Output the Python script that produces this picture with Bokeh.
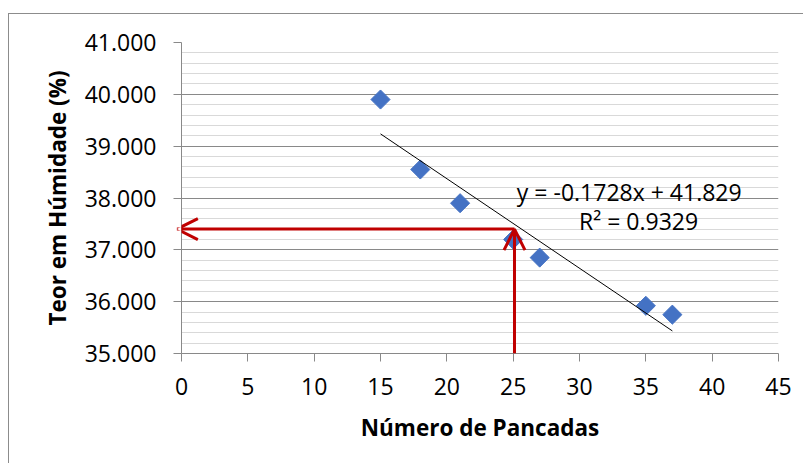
import numpy as np
from bokeh.plotting import figure
from bokeh.models import Range1d, FixedTicker, Arrow, OpenHead, Label, ColumnDataSource
from bokeh.embed import file_html
from bokeh.resources import INLINE

# ---- data ----
blows = [15, 18, 21, 25, 27, 35, 37]
moisture = [39.9, 38.55, 37.9, 37.2, 36.85, 35.92, 35.75]
slope = -0.1728
intercept = 41.829
r_squared = 0.9329
trend_x = [15, 37]
target_blows = 25.1
target_moisture = 37.4
x_ticks = [0, 5, 10, 15, 20, 25, 30, 35, 40, 45]
y_ticks = [35, 36, 37, 38, 39, 40, 41]
y_minor_ticks = [35.2, 35.4, 35.6, 35.8, 36.2, 36.4, 36.6, 36.8, 37.2, 37.4, 37.6, 37.8,
                 38.2, 38.4, 38.6, 38.8, 39.2, 39.4, 39.6, 39.8, 40.2, 40.4, 40.6, 40.8]
y_labels = {35: "35.000", 36: "36.000", 37: "37.000", 38: "38.000", 39: "39.000", 40: "40.000", 41: "41.000"}
x_title = "Número de Pancadas"
y_title = "Teor em Húmidade (%)"

FONT = "Open Sans"
MAJOR = "#898989"
MINOR = "#D9D9D9"
RED = "#C00000"
BLUE = "#4472C4"

p = figure(width=795, height=450, output_backend="svg", toolbar_location=None,
           x_range=Range1d(0, 45), y_range=Range1d(35, 41),
           min_border_left=172, min_border_right=26, min_border_top=28, min_border_bottom=111,
           styles={"margin-left": "8px", "margin-top": "13px",
                   "border-left": "1px solid #8C8C8C", "border-top": "1px solid #8C8C8C"})
p.outline_line_color = None
p.background_fill_color = "white"
p.border_fill_color = "white"

# axes
p.xaxis.ticker = FixedTicker(ticks=x_ticks)
p.yaxis.ticker = FixedTicker(ticks=y_ticks, minor_ticks=y_minor_ticks)
p.yaxis.major_label_overrides = y_labels
for ax in (p.xaxis[0], p.yaxis[0]):
    ax.axis_line_color = MAJOR
    ax.major_tick_line_color = MAJOR
    ax.major_tick_out = 8
    ax.major_tick_in = 0
    ax.minor_tick_line_color = None
    ax.major_label_text_font = FONT
    ax.major_label_text_font_size = "23px"
    ax.major_label_text_color = "black"
    ax.axis_label_text_font = FONT
    ax.axis_label_text_font_size = "22.5px"
    ax.axis_label_text_font_style = "bold"
    ax.axis_label_text_color = "black"
p.xaxis.axis_label = x_title
p.yaxis.axis_label = y_title
p.xaxis.major_label_standoff = 16
p.yaxis.major_label_standoff = 17
p.xaxis.axis_label_standoff = 14
p.yaxis.axis_label_standoff = 9

# grid
p.xgrid.grid_line_color = None
p.ygrid.grid_line_color = MAJOR
p.ygrid.minor_grid_line_color = MINOR
p.ygrid.grid_line_width = 1
p.ygrid.minor_grid_line_width = 1

# data
src = ColumnDataSource(dict(x=blows, y=moisture))
p.scatter("x", "y", source=src, marker="square", angle=np.pi / 4, size=13.5,
          fill_color=BLUE, line_color=BLUE)

# trendline from stated coefficients
tx = np.array(trend_x, dtype=float)
p.line(tx, slope * tx + intercept, line_color="black", line_width=1)

# red arrows
p.add_layout(Arrow(x_start=target_blows, y_start=target_moisture, x_end=-0.35, y_end=target_moisture,
                   line_color=RED, line_width=3,
                   end=OpenHead(size=21, line_color=RED, line_width=3)))
p.add_layout(Arrow(x_start=target_blows, y_start=35, x_end=target_blows, y_end=target_moisture,
                   line_color=RED, line_width=3,
                   end=OpenHead(size=21, line_color=RED, line_width=3)))

# equation labels
p.add_layout(Label(x=33.75, y=38.12, text="y = %.4fx + %.3f" % (slope, intercept),
                   text_font=FONT, text_font_size="23px", text_align="center",
                   text_baseline="middle", text_color="black"))
p.add_layout(Label(x=34.45, y=37.56, text="R² = %.4f" % r_squared,
                   text_font=FONT, text_font_size="23px", text_align="center",
                   text_baseline="middle", text_color="black"))

open("out.html", "w").write(file_html(p, INLINE))
